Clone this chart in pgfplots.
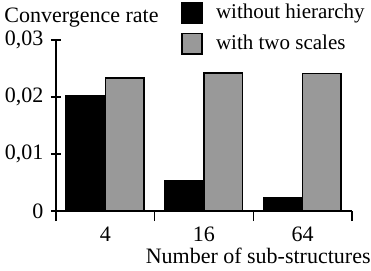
\documentclass[border=0pt]{standalone}
\usepackage{pgfplots}
\pgfplotsset{compat=1.18}
\usepackage{fontspec}
\setmainfont{Liberation Serif}
\begin{document}
\fontsize{11}{13}\selectfont
\begin{tikzpicture}
\path[use as bounding box] (0,0) rectangle (185.5pt,135pt);
\begin{axis}[
  at={(28pt,29.5pt)}, anchor=south west,
  scale only axis, width=148pt, height=85.5pt,
  xmin=0, xmax=3, ymin=0, ymax=0.03,
  axis x line=bottom, axis y line=left,
  axis line style={-, line width=0.8pt},
  every tick/.style={black, line width=0.8pt},
  tick align=center, major tick length=5pt,
  xtick={0,1,2,3}, xticklabels={},
  extra x ticks={0.5,1.5,2.5}, extra x tick labels={4,16,64},
  extra x tick style={major tick length=0pt, tick label style={anchor=base, yshift=-15pt}},
  ytick={0,0.01,0.02,0.03},
  scaled y ticks=false,
  yticklabel style={/pgf/number format/.cd, fixed, precision=2, use comma, assume math mode=true},
  ylabel={}, 
  xlabel={Number of sub-structures},
  xlabel style={at={(axis description cs:1,0)}, anchor=base east, xshift=9.5pt, yshift=-26pt, inner sep=0pt},
  ybar, bar width=0.4,
  legend cell align=left,
  legend style={draw=none, fill=none, at={(0.421,1.222)}, anchor=north west, inner sep=0pt, row sep=4.5pt, column sep=6.5pt, nodes={inner sep=0pt, font=\fontsize{10.5}{12}\selectfont}},
  legend image code/.code={\draw[#1] (0pt,-5.1pt) rectangle (10.2pt,5.1pt);},
]
\addplot[fill=black, draw=black, bar shift=-0.2, bar width=0.4] coordinates {(0.5,0.0202) (1.5,0.0054) (2.5,0.0023)};
\addplot[fill=black!40, draw=black, line width=0.8pt, bar shift=0.195, bar width=0.39] coordinates {(0.5,0.0233) (1.5,0.0242) (2.5,0.0241)};
\legend{without hierarchy, with two scales}
\end{axis}
\node[anchor=base west, inner sep=0pt] at (2pt,124pt) {Convergence rate};
\end{tikzpicture}
\end{document}
